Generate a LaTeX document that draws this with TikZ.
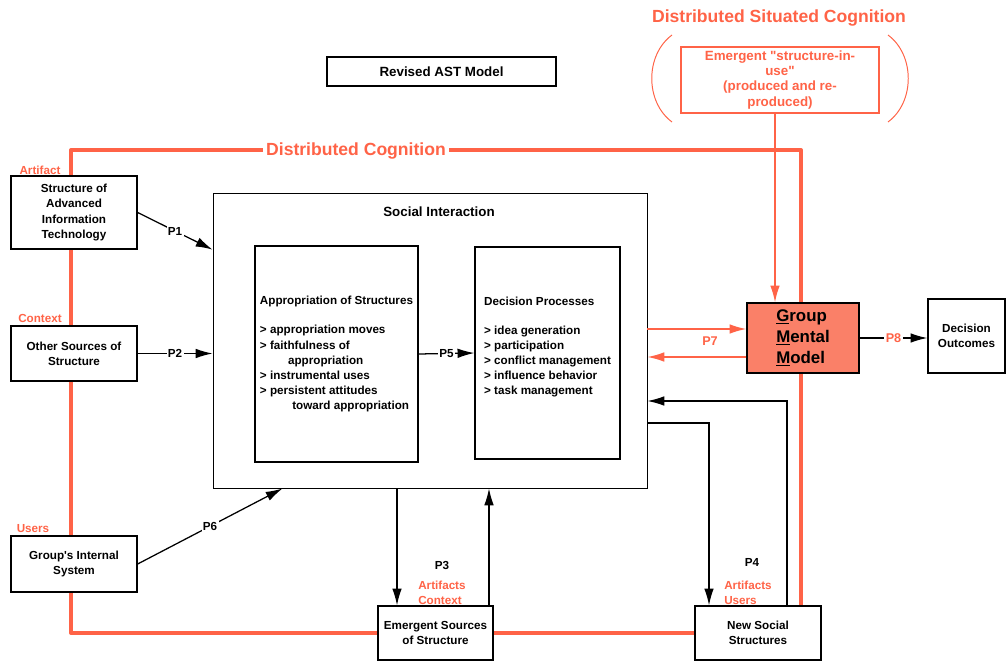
\documentclass[tikz,border=0pt]{standalone}
\usepackage{fontspec}
\setmainfont{Liberation Sans}
\usetikzlibrary{arrows.meta}
\definecolor{dcorange}{RGB}{255,99,71}
\definecolor{gmmfill}{RGB}{250,128,104}
\tikzset{
  box/.style={draw, line width=0.9pt, fill=white, align=center, inner sep=0pt,
    font=\bfseries\fontsize{8.3}{10.7}\selectfont},
  arr/.style={line width=0.9pt, -{Latex[length=4.2mm,width=2.4mm]}},
  oarr/.style={arr, draw=dcorange, line width=1pt},
  plabel/.style={fill=white, inner sep=1pt, font=\bfseries\fontsize{8.3}{10}\selectfont},
  olabel/.style={text=dcorange, align=left, inner sep=0pt,
    font=\bfseries\fontsize{8.3}{10.7}\selectfont},
  biglabel/.style={text=dcorange, font=\bfseries\fontsize{12.5}{14}\selectfont},
  dcline/.style={draw=dcorange, line width=2.8pt, line join=round},
}

\begin{document}
\begin{tikzpicture}[x=0.025cm,y=-0.025cm]
    \useasboundingbox (0,0) rectangle (1006,662);

    % distributed cognition loop
    \draw[dcline] (71,150) rectangle (801,633);
    \node[biglabel, fill=white, inner sep=2pt] (dc) at (356,151) {Distributed Cognition};

    % distributed situated cognition
    \node[biglabel] (dsc) at (779,18) {Distributed Situated Cognition};
    \draw[dcorange, line width=0.7pt] (672,35) .. controls (645,55) and (645,102) .. (672,122);
    \draw[dcorange, line width=0.7pt] (888,35) .. controls (915,55) and (915,102) .. (888,122);
    \node[box, draw=dcorange, text=dcorange, line width=1.2pt, font=\bfseries\fontsize{9.5}{10.7}\selectfont,
      minimum width=4.95cm, minimum height=1.65cm] (siu) at (780,80)
      {Emergent \textquotedbl structure-in-\\use\textquotedbl\\(produced and re-\\produced)};

    \node[box, font=\bfseries\fontsize{9.5}{11}\selectfont, minimum width=5.725cm, minimum height=0.725cm]
      (ast) at (441.5,71.5) {Revised AST Model};

    % sources of structure
    \node[box, minimum width=3.15cm, minimum height=1.825cm] (sait) at (74,212.5) {Structure of\\Advanced\\Information\\Technology};
    \node[olabel] (lart) at (40,170) {Artifact};
    \node[box, minimum width=3.15cm, minimum height=1.375cm] (oss) at (74,353.5) {Other Sources of\\Structure};
    \node[olabel] (lctx) at (40,318) {Context};
    \node[box, minimum width=3.15cm, minimum height=1.4cm] (gis) at (74,564) {Group\textquotesingle s Internal\\System};
    \node[olabel] (lusr) at (33,529) {Users};

    % social interaction
    \node[box, line width=0.6pt, minimum width=10.85cm, minimum height=7.375cm] (soc) at (430,340.5) {};
    \node[font=\bfseries\fontsize{9.5}{11}\selectfont] (soct) at (439,212) {Social Interaction};
    \node[box, align=left, minimum width=4.075cm, minimum height=5.4cm] (appr) at (336.5,354)
      {Appropriation of Structures\\[10pt]
       > appropriation moves\\
       > faithfulness of\\
       \hspace*{20pt}appropriation\\
       > instrumental uses\\
       > persistent attitudes\\
       \hspace*{23pt}toward appropriation};
    \node[box, align=left, minimum width=3.625cm, minimum height=5.3cm] (dec) at (547.5,353)
      {Decision Processes\\[10pt]
       > idea generation\\
       > participation\\
       > conflict management\\
       > influence behavior\\
       > task management\\
       \mbox{}};

    % outcomes
    \node[box, minimum width=2.875cm, minimum height=1.35cm] (esos) at (435.5,633) {Emergent Sources\\of Structure};
    \node[box, minimum width=3.15cm, minimum height=1.35cm] (nss) at (758,633) {New Social\\Structures};
    \node[box, fill=gmmfill, align=left, font=\bfseries\fontsize{12}{15}\selectfont,
      minimum width=2.8cm, minimum height=1.75cm] (gmm) at (803,338)
      {\underline{G}roup\\\underline{M}ental\\\underline{M}odel};
    \node[box, minimum width=1.925cm, minimum height=1.85cm] (dout) at (966.5,336) {Decision\\Outcomes};

    % propositions
    \draw[arr] (sait.east) -- (sait.south -| soc.west) node[plabel, midway] (p1) {P1};
    \draw[arr] (oss.east) -- (oss.east -| soc.west) node[plabel, midway] (p2) {P2};
    \draw[arr] (appr.east) -- (dec.west) node[plabel, midway] (p5) {P5};
    \draw[arr] (gis.east) -- ([xshift=1.75cm]soc.south west) node[plabel, midway] (p6) {P6};

    \coordinate (p3dn) at (397,0);
    \coordinate (p3up) at (489,0);
    \draw[arr] (p3dn |- soc.south) -- (p3dn |- esos.north);
    \draw[arr] (p3up |- esos.north) -- (p3up |- soc.south);
    \node[plabel] (p3) at (442,565) {P3};
    \node[olabel, anchor=west] (lp3) at (418,592.5) {Artifacts\\Context};

    \coordinate (p4a) at (709,423);
    \coordinate (p4b) at (787,401);
    \draw[arr] (p4a -| soc.east) -| (p4a |- nss.north);
    \draw[arr] (p4b |- nss.north) |- (p4b -| soc.east);
    \node[plabel] (p4) at (752,562) {P4};
    \node[olabel, anchor=west] (lp4) at (724,592.5) {Artifacts\\Users};

    \coordinate (p7a) at (0,329);
    \coordinate (p7b) at (0,357);
    \draw[oarr] (p7a -| soc.east) -- (p7a -| gmm.west);
    \draw[oarr] (p7b -| gmm.west) -- (p7b -| soc.east);
    \node[olabel, font=\bfseries\fontsize{9}{10}\selectfont] (p7) at (710,341) {P7};

    \draw[arr] (gmm.east) -- (gmm.east -| dout.west)
      node[plabel, midway, text=dcorange, font=\bfseries\fontsize{9}{10}\selectfont] (p8) {P8};

    \coordinate (siuo) at ([xshift=-0.125cm]siu.south);
    \draw[oarr] (siuo) -- (siuo |- gmm.north);

\end{tikzpicture}
\end{document}
